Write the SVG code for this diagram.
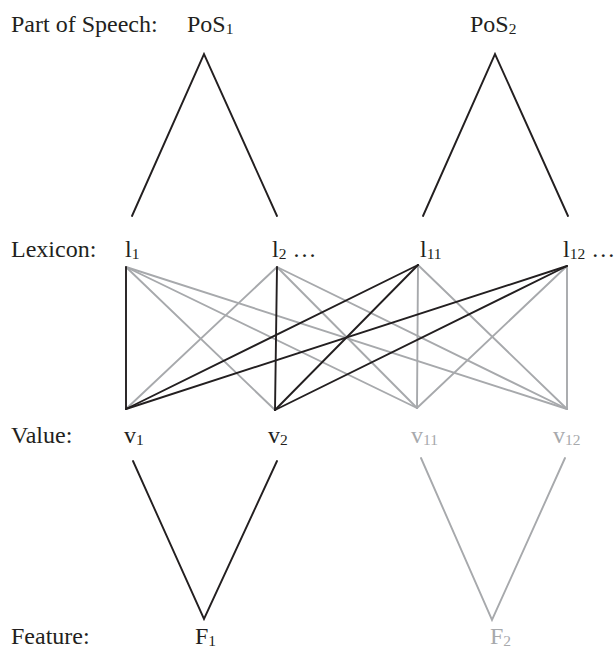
<svg xmlns="http://www.w3.org/2000/svg" width="615" height="651" viewBox="0 0 615 651">
<style>
text{font-family:"Liberation Serif","Times New Roman",serif;font-size:24px;fill:#231f20}
.g{fill:#a7a9ac}
.s{font-size:15.5px}
line,polyline{fill:none;stroke-width:1.9;stroke-linecap:round;stroke-linejoin:miter}
.k{stroke:#231f20}
.gl{stroke:#a7a9ac}
</style>
<rect width="615" height="651" fill="#fff"/>
<g id="labels">
<text x="11" y="32">Part of Speech:</text>
<text x="11" y="257">Lexicon:</text>
<text x="11" y="443">Value:</text>
<text x="11" y="644">Feature:</text>
</g>
<g id="connectors">
<polyline class="k" points="132,216 204,54 277,216"/>
<polyline class="k" points="423,216 495,54 568,216"/>
<polyline class="k" points="133,461 204,619 277,461"/>
<polyline class="gl" points="421,458 492,620 565,458"/>
<line class="gl" x1="126" y1="267" x2="275" y2="410"/>
<line class="gl" x1="126" y1="267" x2="417" y2="408"/>
<line class="gl" x1="126" y1="267" x2="567" y2="409"/>
<line class="gl" x1="277" y1="267" x2="126" y2="409"/>
<line class="gl" x1="277" y1="267" x2="417" y2="408"/>
<line class="gl" x1="277" y1="267" x2="567" y2="409"/>
<line class="gl" x1="418" y1="265" x2="417" y2="408"/>
<line class="gl" x1="418" y1="265" x2="567" y2="409"/>
<line class="gl" x1="567" y1="266" x2="417" y2="408"/>
<line class="gl" x1="567" y1="266" x2="567" y2="409"/>
<line class="k" x1="126" y1="267" x2="126" y2="409"/>
<line class="k" x1="277" y1="267" x2="275" y2="410"/>
<line class="k" x1="418" y1="265" x2="126" y2="409"/>
<line class="k" x1="418" y1="265" x2="275" y2="410"/>
<line class="k" x1="567" y1="266" x2="126" y2="409"/>
<line class="k" x1="567" y1="266" x2="275" y2="410"/>
</g>
<g id="PoS1"><text x="187" y="32">PoS<tspan class="s" dy="2">1</tspan></text></g>
<g id="PoS2"><text x="470" y="32">PoS<tspan class="s" dy="2">2</tspan></text></g>
<g id="l1"><text x="125" y="257">l<tspan class="s" dy="2">1</tspan></text></g>
<g id="l2"><text x="272" y="257">l<tspan class="s" dy="2">2</tspan><tspan dy="-2"> …</tspan></text></g>
<g id="l11"><text x="420" y="257">l<tspan class="s" dy="2">11</tspan></text></g>
<g id="l12"><text x="563" y="257">l<tspan class="s" dy="2">12</tspan><tspan dy="-2"> …</tspan></text></g>
<g id="v1"><text x="124" y="443">v<tspan class="s" dy="2">1</tspan></text></g>
<g id="v2"><text x="268" y="443">v<tspan class="s" dy="2">2</tspan></text></g>
<g id="v11"><text class="g" x="411" y="443">v<tspan class="s" dy="2">11</tspan></text></g>
<g id="v12"><text class="g" x="553" y="443">v<tspan class="s" dy="2">12</tspan></text></g>
<g id="F1"><text x="195" y="644">F<tspan class="s" dy="2">1</tspan></text></g>
<g id="F2"><text class="g" x="490" y="644">F<tspan class="s" dy="2">2</tspan></text></g>
</svg>
